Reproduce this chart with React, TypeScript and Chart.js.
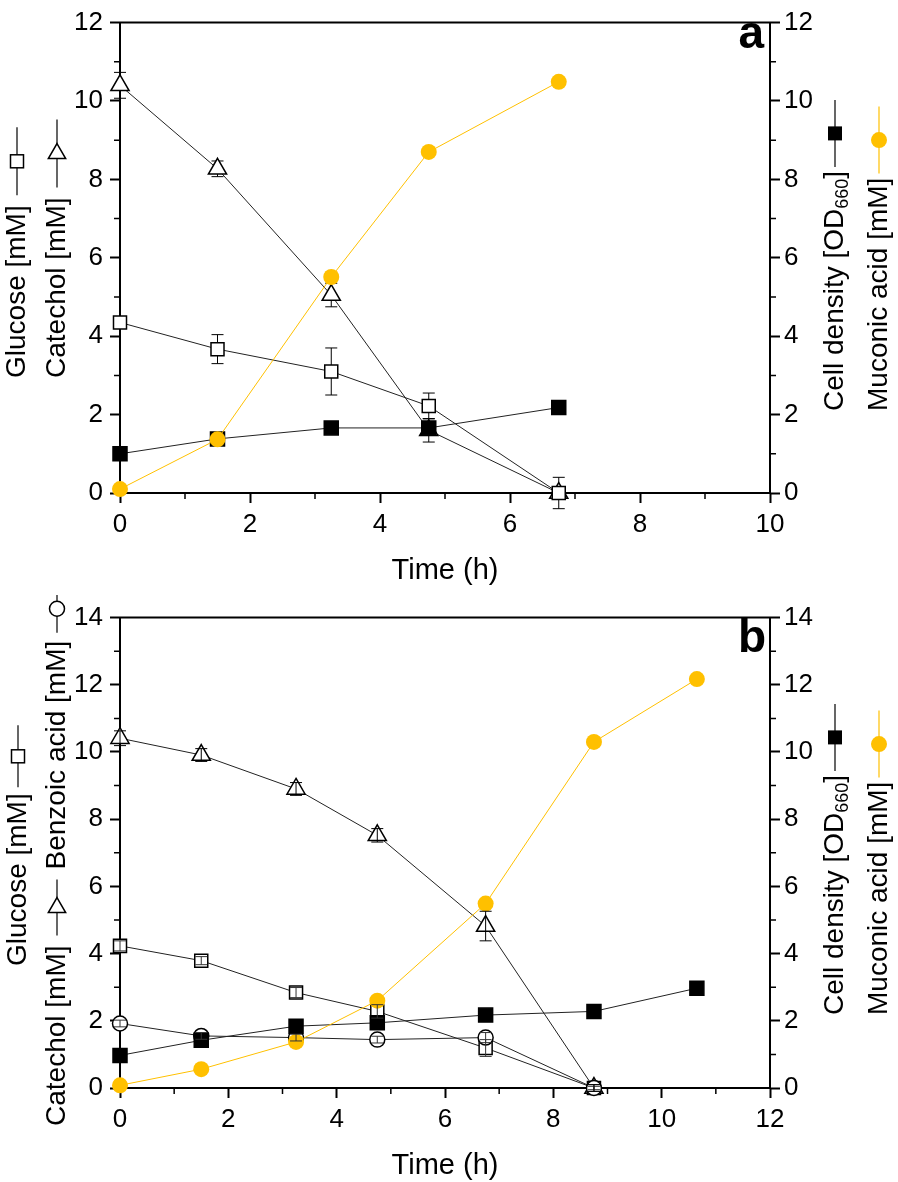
import React, { useEffect, useRef } from 'react';
import { Chart, registerables } from 'chart.js';

Chart.register(...registerables);

const FONT = '"Liberation Sans", Arial, Helvetica, sans-serif';
const YELLOW = '#FFC000';

// ---------- Panel a ----------
const timeA = [0, 1.5, 3.25, 4.75, 6.75];
const glucoseA = [4.35, 3.67, 3.1, 2.22, 0];
const glucoseErrA = [0.1, 0.37, 0.6, 0.33, 0.4];
const catecholA = [10.4, 8.27, 5.05, 1.6, 0];
const catecholErrA = [0.33, 0.2, 0.3, 0.3, 0.1];
const cellDensityA = [1.0, 1.38, 1.66, 1.66, 2.18];
const muconicA = [0.1, 1.37, 5.51, 8.7, 10.49];
const muconicErrA = [0.05, 0.05, 0.12, 0.05, 0.05];
const xMaxA = 10;
const yMaxA = 12;

// ---------- Panel b ----------
const timeB = [0, 1.5, 3.25, 4.75, 6.75, 8.75];
const timeLongB = [0, 1.5, 3.25, 4.75, 6.75, 8.75, 10.65];
const glucoseB = [4.23, 3.79, 2.84, 2.28, 1.19, 0];
const glucoseErrB = [0.15, 0.12, 0.15, 0.2, 0.25, 0.1];
const benzoicB = [1.92, 1.55, 1.5, 1.44, 1.5, 0];
const benzoicErrB = [0.1, 0.1, 0.1, 0.1, 0.15, 0.05];
const catecholB = [10.41, 9.91, 8.9, 7.52, 4.82, 0];
const catecholErrB = [0.22, 0.19, 0.19, 0.2, 0.44, 0.1];
const cellDensityB = [0.97, 1.42, 1.84, 1.94, 2.17, 2.28, 2.97];
const muconicB = [0.08, 0.56, 1.37, 2.6, 5.49, 10.3, 12.17];
const muconicErrB = [0.05, 0.05, 0.05, 0.05, 0.08, 0.05, 0.05];
const xMaxB = 12;
const yMaxB = 14;

// ---------- Text ----------
const xTitle = 'Time (h)';
const glucoseLabel = 'Glucose [mM]';
const catecholLabel = 'Catechol [mM]';
const benzoicLabel = 'Benzoic acid [mM]';
const cellLabel = 'Cell density [OD';
const cellSub = '660';
const cellEnd = ']';
const muconicLabel = 'Muconic acid [mM]';

const W = 898;
const H_A = 595;
const H_B = 587;
const PLOT_LEFT = 120;
const PLOT_RIGHT = 770;
const PLOT_TOP = 14;
const PLOT_BOTTOM = 493;

type Sym = 'square' | 'filled' | 'triangle' | 'dot' | 'ocircle';
type Part = { text?: string; sub?: string; after?: string; sym?: Sym; len?: number; gap?: number };
type Col = { x: number; y: number; parts: Part[] };
type ErrSpec = { ds: number; err: number[]; color: string };
type Decor = {
  letter: string;
  letterX: number;
  letterY: number;
  cols: Col[];
  errors: ErrSpec[];
  errOnTop: boolean;
};

function pts(xs: number[], ys: number[]) {
  return xs.map((x, i) => ({ x, y: ys[i] }));
}

function drawMarker(ctx: CanvasRenderingContext2D, sym: Sym, x: number, y: number) {
  ctx.save();
  ctx.lineWidth = 1.5;
  ctx.strokeStyle = '#000';
  if (sym === 'square') {
    ctx.fillStyle = '#fff';
    ctx.fillRect(x - 6.5, y - 6.5, 13, 13);
    ctx.strokeRect(x - 6.5, y - 6.5, 13, 13);
  } else if (sym === 'filled') {
    ctx.fillStyle = '#000';
    ctx.fillRect(x - 7, y - 7, 14, 14);
  } else if (sym === 'triangle') {
    const r = 10;
    ctx.beginPath();
    ctx.moveTo(x, y - r);
    ctx.lineTo(x + r * 0.866, y + r / 2);
    ctx.lineTo(x - r * 0.866, y + r / 2);
    ctx.closePath();
    ctx.fillStyle = '#fff';
    ctx.fill();
    ctx.stroke();
  } else if (sym === 'dot') {
    ctx.beginPath();
    ctx.arc(x, y, 8, 0, Math.PI * 2);
    ctx.fillStyle = YELLOW;
    ctx.fill();
  } else {
    ctx.beginPath();
    ctx.arc(x, y, 7.5, 0, Math.PI * 2);
    ctx.fillStyle = '#fff';
    ctx.fill();
    ctx.stroke();
  }
  ctx.restore();
}

function drawCol(ctx: CanvasRenderingContext2D, col: Col) {
  let y = col.y;
  for (const p of col.parts) {
    if (p.text !== undefined) {
      ctx.save();
      ctx.translate(col.x, y);
      ctx.rotate(-Math.PI / 2);
      ctx.fillStyle = '#000';
      ctx.textAlign = 'left';
      ctx.textBaseline = 'middle';
      ctx.font = `28px ${FONT}`;
      ctx.fillText(p.text, 0, 0);
      let w = ctx.measureText(p.text).width;
      if (p.sub) {
        ctx.font = `18px ${FONT}`;
        ctx.fillText(p.sub, w, 8);
        w += ctx.measureText(p.sub).width;
      }
      if (p.after) {
        ctx.font = `28px ${FONT}`;
        ctx.fillText(p.after, w, 0);
        w += ctx.measureText(p.after).width;
      }
      ctx.restore();
      y -= w;
    } else if (p.sym) {
      const gap = p.gap ?? 8;
      const len = p.len ?? 66;
      y -= gap;
      ctx.save();
      ctx.strokeStyle = p.sym === 'dot' ? YELLOW : '#000';
      ctx.lineWidth = 1.2;
      ctx.beginPath();
      ctx.moveTo(col.x, y);
      ctx.lineTo(col.x, y - len);
      ctx.stroke();
      ctx.restore();
      drawMarker(ctx, p.sym, col.x, y - len / 2);
      y -= len + gap;
    }
  }
}

function drawErrors(chart: any, errs: ErrSpec[]) {
  const ctx: CanvasRenderingContext2D = chart.ctx;
  ctx.save();
  ctx.lineWidth = 1;
  for (const e of errs) {
    const meta = chart.getDatasetMeta(e.ds);
    const scale = chart.scales[meta.yAxisID];
    const data = chart.data.datasets[e.ds].data as { x: number; y: number }[];
    ctx.strokeStyle = e.color;
    meta.data.forEach((pt: any, i: number) => {
      const er = e.err[i];
      if (!er) return;
      const v = data[i].y;
      const x = pt.x;
      const y1 = scale.getPixelForValue(v + er);
      const y2 = scale.getPixelForValue(v - er);
      ctx.beginPath();
      ctx.moveTo(x, y1);
      ctx.lineTo(x, y2);
      ctx.moveTo(x - 6, y1);
      ctx.lineTo(x + 6, y1);
      ctx.moveTo(x - 6, y2);
      ctx.lineTo(x + 6, y2);
      ctx.stroke();
    });
  }
  ctx.restore();
}

function makeDecor(cfg: Decor) {
  return {
    id: 'decor',
    beforeDatasetsDraw(chart: any) {
      if (!cfg.errOnTop) drawErrors(chart, cfg.errors);
    },
    afterDatasetsDraw(chart: any) {
      if (cfg.errOnTop) drawErrors(chart, cfg.errors);
    },
    afterDraw(chart: any) {
      const ctx: CanvasRenderingContext2D = chart.ctx;
      const { left, right, top, bottom } = chart.chartArea;
      const xs = chart.scales.x;
      const ys = chart.scales.y;
      ctx.save();
      ctx.strokeStyle = '#000';
      // top frame line
      ctx.lineWidth = 2;
      ctx.beginPath();
      ctx.moveTo(left - 1, top);
      ctx.lineTo(right + 1, top);
      ctx.stroke();
      // minor ticks
      ctx.lineWidth = 1.5;
      ctx.beginPath();
      for (let v = 1; v < xs.max; v += 2) {
        const px = xs.getPixelForValue(v);
        ctx.moveTo(px, bottom);
        ctx.lineTo(px, bottom + 6);
      }
      for (let v = 1; v < ys.max; v += 2) {
        const py = ys.getPixelForValue(v);
        ctx.moveTo(left, py);
        ctx.lineTo(left - 6, py);
        ctx.moveTo(right, py);
        ctx.lineTo(right + 6, py);
      }
      ctx.stroke();
      ctx.restore();

      // x title
      ctx.save();
      ctx.fillStyle = '#000';
      ctx.font = `29px ${FONT}`;
      ctx.textAlign = 'center';
      ctx.textBaseline = 'alphabetic';
      ctx.fillText(xTitle, (left + right) / 2, bottom + 86);
      // panel letter
      ctx.font = `bold 46px ${FONT}`;
      ctx.textAlign = 'right';
      ctx.fillText(cfg.letter, cfg.letterX, cfg.letterY);
      ctx.restore();

      for (const c of cfg.cols) drawCol(ctx, c);
    },
  };
}

function axisCommon(max: number, padding: number) {
  return {
    type: 'linear' as const,
    min: 0,
    max,
    ticks: {
      stepSize: 2,
      font: { family: FONT, size: 26 },
      color: '#000',
      padding,
      maxRotation: 0,
      autoSkip: false,
    },
    grid: {
      display: true,
      drawOnChartArea: false,
      drawTicks: true,
      tickLength: 10,
      tickWidth: 2,
      tickColor: '#000',
    },
    border: { display: true, color: '#000', width: 2 },
  };
}

function lineDs(label: string, data: any[], kind: Sym, axis: string) {
  const base: any = {
    label,
    data,
    yAxisID: axis,
    clip: false,
    tension: 0,
    borderWidth: 1,
    borderColor: '#222',
    pointBorderWidth: 1.5,
    pointBorderColor: '#000',
    pointBackgroundColor: '#fff',
  };
  if (kind === 'square') {
    base.pointStyle = 'rect';
    base.pointRadius = 9.2;
  } else if (kind === 'filled') {
    base.pointStyle = 'rect';
    base.pointRadius = 9.9;
    base.pointBackgroundColor = '#000';
  } else if (kind === 'triangle') {
    base.pointStyle = 'triangle';
    base.pointRadius = 10.5;
  } else if (kind === 'ocircle') {
    base.pointStyle = 'circle';
    base.pointRadius = 7.5;
  } else {
    base.pointStyle = 'circle';
    base.pointRadius = 8;
    base.borderColor = YELLOW;
    base.pointBorderColor = YELLOW;
    base.pointBackgroundColor = YELLOW;
    base.pointBorderWidth = 0;
  }
  return base;
}

function buildChart(canvas: HTMLCanvasElement, height: number, xMax: number, yMax: number, datasets: any[], decor: Decor) {
  return new Chart(canvas, {
    type: 'line',
    data: { datasets },
    options: {
      responsive: false,
      animation: false,
      events: [],
      devicePixelRatio: 1,
      layout: { padding: { top: PLOT_TOP, left: 0, right: 0, bottom: 0 } },
      plugins: { legend: { display: false }, tooltip: { enabled: false } },
      scales: {
        x: {
          ...axisCommon(xMax, 6),
          position: 'bottom',
          afterFit: (s: any) => {
            s.height = height - PLOT_BOTTOM;
          },
        },
        y: {
          ...axisCommon(yMax, 7),
          position: 'left',
          afterFit: (s: any) => {
            s.width = PLOT_LEFT;
          },
        },
        y2: {
          ...axisCommon(yMax, 4),
          position: 'right',
          afterFit: (s: any) => {
            s.width = W - PLOT_RIGHT;
          },
        },
      },
    } as any,
    plugins: [makeDecor(decor)],
  });
}

function App() {
  const refA = useRef<HTMLCanvasElement>(null);
  const refB = useRef<HTMLCanvasElement>(null);

  useEffect(() => {
    if (!refA.current || !refB.current) return;
    const chartA = buildChart(
      refA.current,
      H_A,
      xMaxA,
      yMaxA,
      [
        lineDs('Muconic acid', pts(timeA, muconicA), 'dot', 'y2'),
        lineDs('Cell density', pts(timeA, cellDensityA), 'filled', 'y2'),
        lineDs('Glucose', pts(timeA, glucoseA), 'square', 'y'),
        lineDs('Catechol', pts(timeA, catecholA), 'triangle', 'y'),
      ],
      {
        letter: 'a',
        letterX: 764,
        letterY: 48,
        errOnTop: false,
        errors: [
          { ds: 0, err: muconicErrA, color: '#d9a300' },
          { ds: 2, err: glucoseErrA, color: '#000' },
          { ds: 3, err: catecholErrA, color: '#000' },
        ],
        cols: [
          { x: 17, y: 378, parts: [{ text: glucoseLabel }, { sym: 'square', gap: 10, len: 68 }] },
          { x: 57, y: 378, parts: [{ text: catecholLabel }, { sym: 'triangle', gap: 10, len: 68 }] },
          { x: 835, y: 411, parts: [{ text: cellLabel, sub: cellSub, after: cellEnd }, { sym: 'filled', gap: 4, len: 67 }] },
          { x: 879, y: 411, parts: [{ text: muconicLabel }, { sym: 'dot', gap: 4, len: 67 }] },
        ],
      }
    );
    const chartB = buildChart(
      refB.current,
      H_B,
      xMaxB,
      yMaxB,
      [
        lineDs('Muconic acid', pts(timeLongB, muconicB), 'dot', 'y2'),
        lineDs('Cell density', pts(timeLongB, cellDensityB), 'filled', 'y2'),
        lineDs('Benzoic acid', pts(timeB, benzoicB), 'ocircle', 'y'),
        lineDs('Glucose', pts(timeB, glucoseB), 'square', 'y'),
        lineDs('Catechol', pts(timeB, catecholB), 'triangle', 'y'),
      ],
      {
        letter: 'b',
        letterX: 766,
        letterY: 57,
        errOnTop: true,
        errors: [
          { ds: 0, err: muconicErrB, color: YELLOW },
          { ds: 2, err: benzoicErrB, color: '#333' },
          { ds: 3, err: glucoseErrB, color: '#333' },
          { ds: 4, err: catecholErrB, color: '#000' },
        ],
        cols: [
          { x: 18, y: 371, parts: [{ text: glucoseLabel }, { sym: 'square', gap: 6, len: 62 }] },
          {
            x: 57,
            y: 531,
            parts: [
              { text: catecholLabel },
              { sym: 'triangle', gap: 10, len: 56 },
              { text: benzoicLabel },
              { sym: 'ocircle', gap: 8, len: 48 },
            ],
          },
          { x: 835, y: 420, parts: [{ text: cellLabel, sub: cellSub, after: cellEnd }, { sym: 'filled', gap: 4, len: 67 }] },
          { x: 879, y: 420, parts: [{ text: muconicLabel }, { sym: 'dot', gap: 4, len: 67 }] },
        ],
      }
    );
    return () => {
      chartA.destroy();
      chartB.destroy();
    };
  }, []);

  return (
    <div style={{ position: 'absolute', left: 0, top: 0, width: W, height: 1182, background: '#fff', overflow: 'hidden' }}>
      <canvas ref={refA} width={W} height={H_A} style={{ position: 'absolute', left: 0, top: 0, width: W, height: H_A }} />
      <canvas ref={refB} width={W} height={H_B} style={{ position: 'absolute', left: 0, top: H_A, width: W, height: H_B }} />
    </div>
  );
}

export default App;
